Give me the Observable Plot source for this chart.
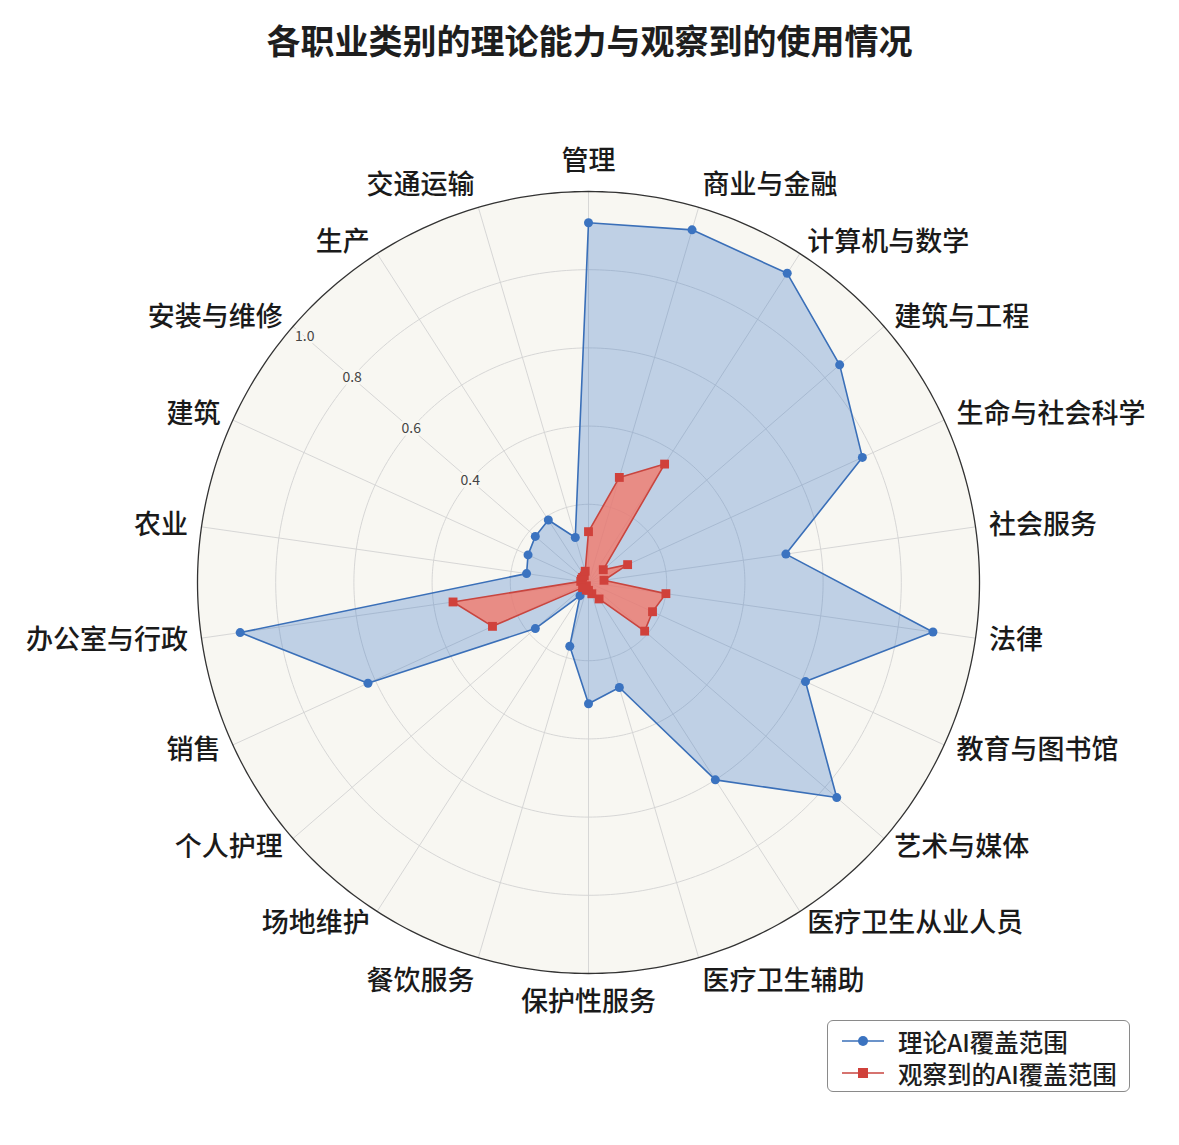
<!DOCTYPE html>
<html><head><meta charset="utf-8">
<script src="https://cdn.jsdelivr.net/npm/d3@7"></script>
<script src="https://cdn.jsdelivr.net/npm/@observablehq/plot@0.6"></script>
<style>
body{margin:0;background:#fff;font-family:"Noto Sans CJK SC","Noto Sans",sans-serif;}
#wrap{position:relative;width:1179px;height:1145px;overflow:hidden;}
#title{position:absolute;left:0;top:16px;width:1179px;text-align:center;font-size:34px;font-weight:700;color:#1e1e1e;line-height:48px;}
#chart{position:absolute;left:0;top:80px;}
#legend{position:absolute;left:827px;top:1020px;width:303px;height:72px;border:1.3px solid #8a8a8a;border-radius:6px;background:#fff;box-sizing:border-box;padding-top:4px;}
.row{display:flex;align-items:center;height:32px;font-size:24.5px;color:#1e1e1e;font-weight:500;}
.row svg{margin-left:14px;margin-right:14px;}
</style>
</head><body>
<div id="wrap">
<div id="title">各职业类别的理论能力与观察到的使用情况</div>
<div id="chart"></div>
<div id="legend"></div>
</div>
<script>
const categories = ["管理","商业与金融","计算机与数学","建筑与工程","生命与社会科学","社会服务","法律","教育与图书馆","艺术与媒体","医疗卫生从业人员","医疗卫生辅助","保护性服务","餐饮服务","场地维护","个人护理","销售","办公室与行政","农业","建筑","安装与维修","生产","交通运输"];
const theoretical = [0.92,0.94,0.94,0.85,0.77,0.51,0.89,0.61,0.84,0.60,0.28,0.31,0.17,0.04,0.18,0.62,0.90,0.16,0.17,0.18,0.19,0.12];
const observed = [0.13,0.28,0.36,0.05,0.11,0.04,0.20,0.18,0.19,0.05,0.03,0.02,0.02,0.01,0.02,0.27,0.35,0.02,0.02,0.02,0.02,0.03];
const gridTicks = [0.2,0.4,0.6,0.8,1.0];
const tickLabels = [0.4,0.6,0.8,1.0];
const seriesNames = ["理论AI覆盖范围","观察到的AI覆盖范围"];
const seriesColors = ["#3b73c0","#d0413b"];

const W = 1179, H = 1065, CX = 588, CY = 502, R = 391;
const BG = "#f8f7f2";
const n = categories.length;
const ang = i => i * 2 * Math.PI / n;
const pol = (r, a) => ({x: r * Math.sin(a), y: r * Math.cos(a)});

const theo = categories.map((c, i) => ({c, v: theoretical[i], ...pol(theoretical[i], ang(i))}));
const obs = categories.map((c, i) => ({c, v: observed[i], ...pol(observed[i], ang(i))}));
const circles = gridTicks.flatMap(t => d3.range(0, 361, 1).map(d => ({t, ...pol(t, d * Math.PI / 180)})));
const outer = circles.filter(d => d.t === 1);
const inner = circles.filter(d => d.t < 1);
const spokes = categories.flatMap((c, i) => [{c, ...pol(0, ang(i))}, {c, ...pol(1, ang(i))}]);
const tickIdx = categories.indexOf("安装与维修");
const ticks = tickLabels.map(t => ({t, ...pol(Math.min(t, 0.96), ang(tickIdx))}));
const labels = categories.map((c, i) => {
  const a = ang(i), s = Math.sin(a), co = Math.cos(a);
  return {c, ...pol(1.035, a),
    ha: Math.abs(s) < 0.01 ? "middle" : s > 0 ? "start" : "end",
    va: co > 0.9 ? "bottom" : co < -0.9 ? "top" : "middle"};
});
const groups = d3.groups(labels, d => d.ha + "|" + d.va);
const extraDy = {"middle|bottom": -8, "middle|top": 5};

const chart = Plot.plot({
  width: W, height: H, margin: 0,
  x: {domain: [-CX / R, (W - CX) / R], range: [0, W], axis: null},
  y: {domain: [-(H - CY) / R, CY / R], range: [H, 0], axis: null},
  style: {background: "transparent", fontFamily: '"Noto Sans CJK SC","Noto Sans",sans-serif'},
  marks: [
    Plot.line(outer, {x: "x", y: "y", fill: BG, stroke: "none", curve: "linear-closed"}),
    Plot.line(inner, {x: "x", y: "y", z: "t", stroke: "#d2d2d2", strokeWidth: 0.9}),
    Plot.line(spokes, {x: "x", y: "y", z: "c", stroke: "#d2d2d2", strokeWidth: 0.9}),
    Plot.text(ticks, {x: "x", y: "y", text: d => d.t.toFixed(1), fontSize: 14, fill: "#444", stroke: BG, strokeWidth: 5}),
    Plot.line(theo, {x: "x", y: "y", curve: "linear-closed", fill: "#3b77c6", fillOpacity: 0.3, stroke: "#3a6fb8", strokeWidth: 1.6}),
    Plot.dot(theo, {x: "x", y: "y", r: 4.5, fill: seriesColors[0], stroke: "none"}),
    Plot.line(obs, {x: "x", y: "y", curve: "linear-closed", fill: "#f4786a", fillOpacity: 0.78, stroke: "#c8453f", strokeWidth: 1.6}),
    Plot.dot(obs, {x: "x", y: "y", r: 5, symbol: "square", fill: seriesColors[1], stroke: "none"}),
    Plot.line(outer, {x: "x", y: "y", stroke: "#333", strokeWidth: 1.3}),
    ...groups.map(([k, arr]) => Plot.text(arr, {x: "x", y: "y", text: "c", textAnchor: arr[0].ha, lineAnchor: arr[0].va, dy: extraDy[k] || 0, fontSize: 27, fontWeight: 500, fill: "#1a1a1a"}))
  ]
});
document.getElementById("chart").appendChild(chart);

const leg = document.getElementById("legend");
seriesNames.forEach((name, i) => {
  const row = document.createElement("div");
  row.className = "row";
  const marker = i === 0
    ? `<circle cx="21" cy="10" r="5" fill="${seriesColors[0]}"/>`
    : `<rect x="16" y="5" width="10" height="10" fill="${seriesColors[1]}"/>`;
  row.innerHTML = `<svg width="42" height="20"><line x1="0" y1="10" x2="42" y2="10" stroke="${i === 0 ? "#3a6fb8" : "#c8453f"}" stroke-width="1.6"/>${marker}</svg><span>${name}</span>`;
  leg.appendChild(row);
});
</script>
</body></html>
